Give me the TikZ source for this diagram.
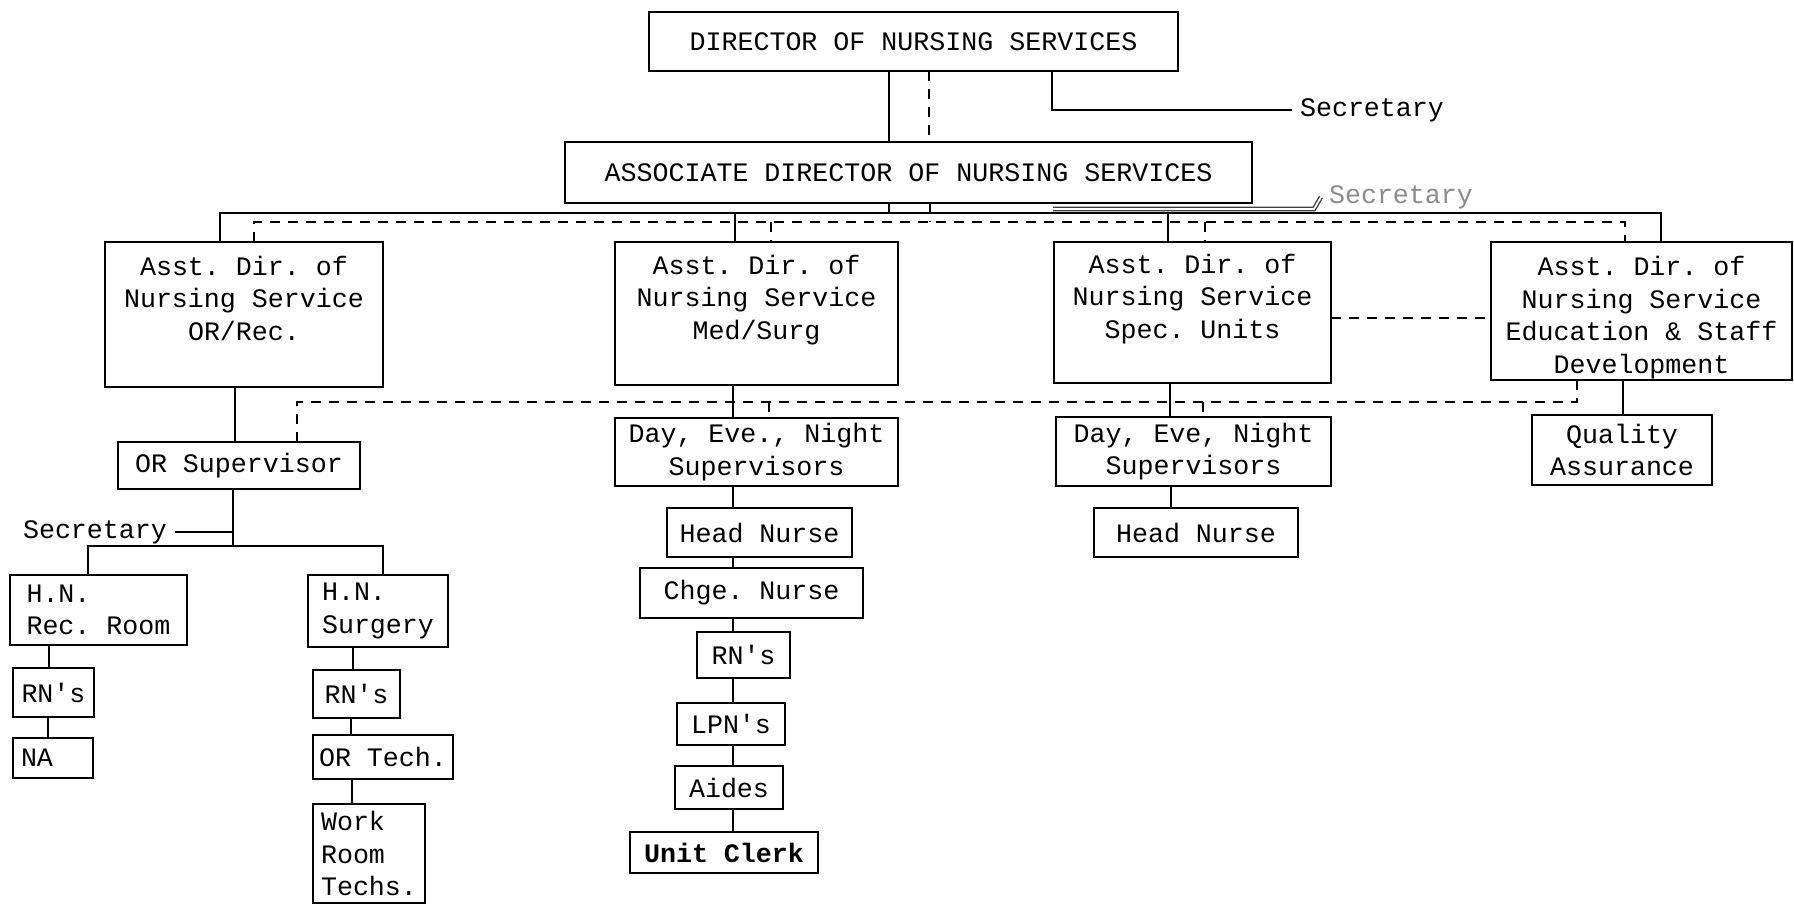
\documentclass[tikz,border=0pt]{standalone}
\usepackage{fontspec}
\setmonofont{Liberation Mono}
\newcommand\twfont{\ttfamily\fontsize{13.33pt}{16.25pt}\selectfont}
\begin{document}
\begin{tikzpicture}[x=0.5pt,y=-0.5pt,
  every node/.style={font=\twfont, text=black},
  box/.style={draw, line width=1.3pt, inner sep=0pt, outer sep=0pt, align=center},
  lbox/.style={box, align=left},
  rect/.style n args={4}{minimum width={(#3-#1)*0.5pt}, minimum height={(#4-#2)*0.5pt},
    at={({(#1+#3)/2},{(#2+#4)/2})}},
  txt/.style={inner xsep=4pt, inner ysep=0pt, outer sep=0pt},
  conn/.style={line width=1.1pt},
  dconn/.style={line width=1.1pt, dash pattern=on 5pt off 4pt},
  secline/.style={line width=0.7pt, draw=black!75, double=white, double distance=0.9pt}
]
\fill[white] (0,0) rectangle (1794,907);

% top management
\node[box, rect={649}{12}{1178}{71}] (dir) {DIRECTOR OF NURSING SERVICES};
\node[box, rect={565}{142}{1252}{203}] (assoc) {ASSOCIATE DIRECTOR OF NURSING SERVICES};
\node[txt, anchor=west] (sec1) at (1292,110) {Secretary};
\node[txt, anchor=west, text=black!45] (sec2) at (1321,197) {Secretary};

% assistant directors
\node[box, rect={105}{242}{383}{387}] (orrec) {Asst. Dir. of\\Nursing Service\\OR/Rec.\\\mbox{}};
\node[box, rect={615}{242}{898}{385}] (medsurg) {Asst. Dir. of\\Nursing Service\\Med/Surg\\\mbox{}};
\node[box, rect={1054}{242}{1331}{383}] (spec) {Asst. Dir. of\\Nursing Service\\Spec. Units\\\mbox{}};
\node[box, rect={1491}{242}{1792}{380}] (edu) {\mbox{}\\Asst. Dir. of\\Nursing Service\\Education \& Staff\\Development};

% supervisors and staff units
\node[box, rect={118}{442}{360}{489}] (orsup) {OR Supervisor};
\node[box, rect={615}{418}{898}{486}] (daymed) {Day, Eve., Night\\Supervisors};
\node[box, rect={1056}{417}{1331}{486}] (dayspec) {Day, Eve, Night\\Supervisors};
\node[box, rect={1532}{415}{1712}{485}] (qa) {Quality\\Assurance};

% medical / surgical chain
\node[box, rect={667}{508}{852}{557}] (hnmed) {Head Nurse};
\node[box, rect={640}{568}{863}{618}] (chge) {Chge. Nurse};
\node[box, rect={697}{632}{790}{678}] (rnmed) {RN\textquotesingle s};
\node[box, rect={677}{703}{785}{745}] (lpn) {LPN\textquotesingle s};
\node[box, rect={675}{766}{783}{809}] (aides) {Aides};
\node[box, rect={630}{832}{818}{873}, font=\twfont\bfseries] (clerk) {Unit Clerk};

% special units
\node[box, rect={1094}{508}{1298}{557}] (hnspec) {Head Nurse};

% operating room / recovery
\node[txt, anchor=east] (sec3) at (175,532) {Secretary};
\node[lbox, rect={10}{575}{187}{645}] (hnrec) {H.N.\\Rec. Room};
\node[box, rect={13}{668}{94}{717}] (rnrec) {RN\textquotesingle s};
\node[box, rect={13}{738}{93}{778}] (na) {NA\hspace{16pt}};
\node[lbox, rect={308}{575}{448}{647}] (hnsurg) {H.N.\\Surgery};
\node[box, rect={313}{670}{400}{718}] (rnsurg) {RN\textquotesingle s};
\node[box, rect={313}{735}{453}{779}] (ortech) {OR Tech.};
\node[lbox, rect={313}{804}{425}{903}] (work) {Work\\Room\\Techs.};

% bus levels
\coordinate (sbus) at (0,213);
\coordinate (dbus) at (0,222);
\coordinate (lbus) at (0,402);
\coordinate (obus) at (0,546);
\coordinate (s2a) at (1053,209);
\coordinate (s2b) at (1314,209);

% director to associate director
\draw[conn] (dir.south -| 889,0) -- (assoc.north -| 889,0);
\draw[dconn] (dir.south -| 929,0) -- (assoc.north -| 929,0);
\draw[conn] (dir.south -| 1052,0) |- (sec1.west);
\draw[secline] (s2a) -- (s2b) -- (sec2.west);

% associate director to assistant directors
\draw[conn] (assoc.south -| 889,0) -- (sbus -| 889,0);
\draw[dconn] (assoc.south -| 930,0) -- (dbus -| 930,0);
\draw[conn] (orrec.north -| 220,0) -- (sbus -| 220,0) -- (sbus -| 1661,0) -- (edu.north -| 1661,0);
\draw[conn] (sbus -| 735,0) -- (medsurg.north -| 735,0);
\draw[conn] (sbus -| 1168,0) -- (spec.north -| 1168,0);
\draw[dconn] (orrec.north -| 254,0) -- (dbus -| 254,0) -- (dbus -| 1625,0) -- (edu.north -| 1625,0);
\draw[dconn] (dbus -| 771,0) -- (medsurg.north -| 771,0);
\draw[dconn] (dbus -| 1205,0) -- (spec.north -| 1205,0);
\draw[dconn] (spec.east |- 0,318) -- (edu.west |- 0,318);

% assistant directors to supervisors
\draw[conn] (orrec.south -| 235,0) -- (orsup.north -| 235,0);
\draw[conn] (medsurg.south -| 733,0) -- (daymed.north -| 733,0);
\draw[conn] (spec.south -| 1170,0) -- (dayspec.north -| 1170,0);
\draw[conn] (edu.south -| 1623,0) -- (qa.north -| 1623,0);
\draw[dconn] (orsup.north -| 297,0) -- (lbus -| 297,0) -- (lbus -| 1577,0) -- (edu.south -| 1577,0);
\draw[dconn] (lbus -| 769,0) -- (daymed.north -| 769,0);
\draw[dconn] (lbus -| 1203,0) -- (dayspec.north -| 1203,0);

% medical / surgical chain
\foreach \a/\b in {daymed/hnmed, hnmed/chge, chge/rnmed, rnmed/lpn, lpn/aides, aides/clerk}
  \draw[conn] (\a.south -| 733,0) -- (\b.north -| 733,0);

% special units chain
\draw[conn] (dayspec.south -| 1171,0) -- (hnspec.north -| 1171,0);

% operating room / recovery chain
\draw[conn] (orsup.south -| 233,0) -- (obus -| 233,0);
\draw[conn] (sec3.east) -- (sec3.east -| 233,0);
\draw[conn] (hnrec.north -| 88,0) -- (obus -| 88,0) -- (obus -| 383,0) -- (hnsurg.north -| 383,0);
\draw[conn] (hnrec.south -| 49,0) -- (rnrec.north -| 49,0);
\draw[conn] (rnrec.south -| 48,0) -- (na.north -| 48,0);
\draw[conn] (hnsurg.south -| 353,0) -- (rnsurg.north -| 353,0);
\draw[conn] (rnsurg.south -| 351,0) -- (ortech.north -| 351,0);
\draw[conn] (ortech.south -| 352,0) -- (work.north -| 352,0);
\end{tikzpicture}
\end{document}
